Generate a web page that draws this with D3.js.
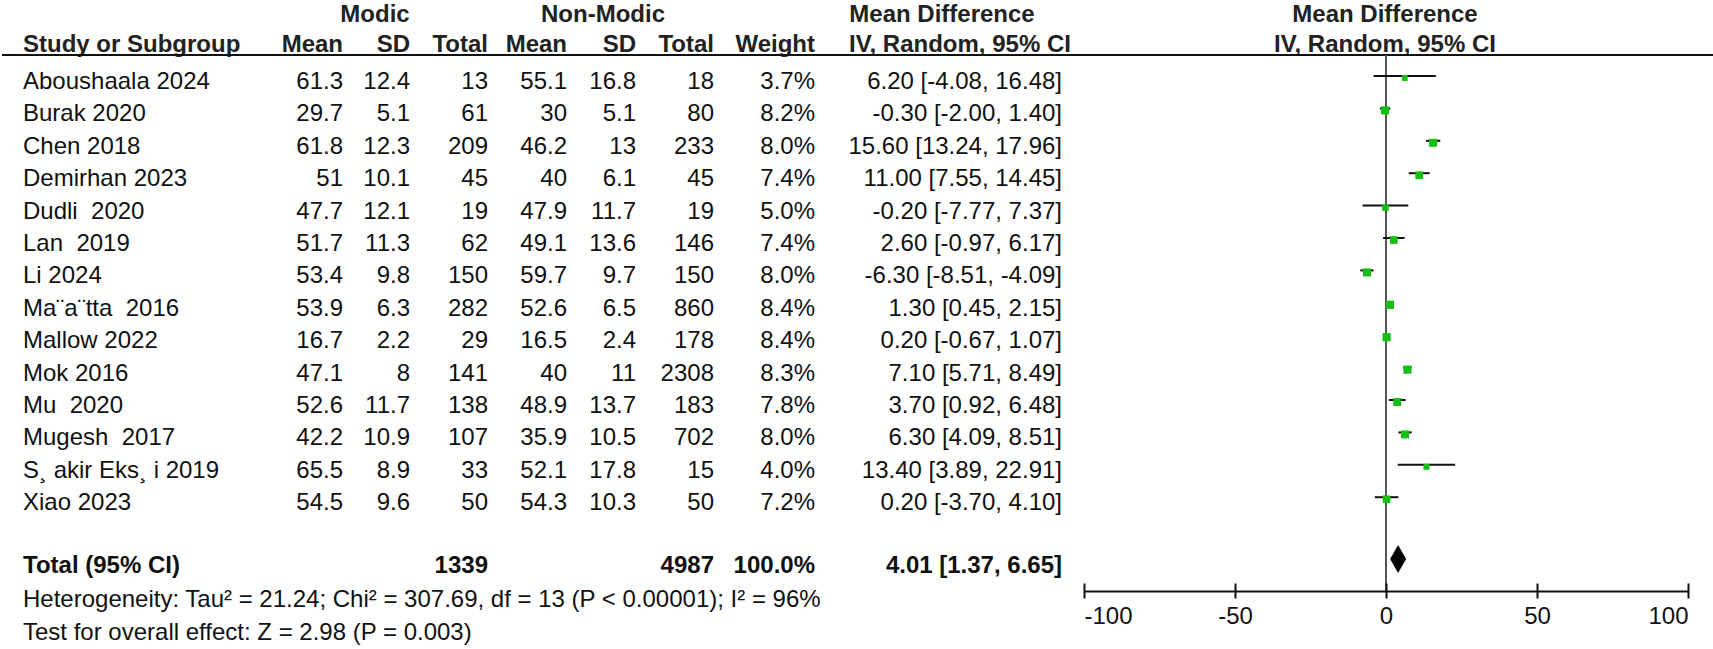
<!DOCTYPE html>
<html>
<head>
<meta charset="utf-8">
<script src="https://cdn.jsdelivr.net/npm/d3@7"></script>
<style>
  html, body { margin: 0; padding: 0; background: #fff; }
  svg { display: block; font-family: "Liberation Sans", Arial, sans-serif; }
  text { white-space: pre; }
</style>
</head>
<body>
<svg id="chart" width="1713" height="649"></svg>
<script>
// ---------- data ----------
const studies = ["Aboushaala 2024", "Burak 2020", "Chen 2018", "Demirhan 2023", "Dudli  2020",
  "Lan  2019", "Li 2024", "Ma\u00a8a\u00a8tta  2016", "Mallow 2022", "Mok 2016", "Mu  2020",
  "Mugesh  2017", "S\u00b8 akir Eks\u00b8 i 2019", "Xiao 2023"];
const modicMean  = [61.3, 29.7, 61.8, 51, 47.7, 51.7, 53.4, 53.9, 16.7, 47.1, 52.6, 42.2, 65.5, 54.5];
const modicSD    = [12.4, 5.1, 12.3, 10.1, 12.1, 11.3, 9.8, 6.3, 2.2, 8, 11.7, 10.9, 8.9, 9.6];
const modicTotal = [13, 61, 209, 45, 19, 62, 150, 282, 29, 141, 138, 107, 33, 50];
const nonMean    = [55.1, 30, 46.2, 40, 47.9, 49.1, 59.7, 52.6, 16.5, 40, 48.9, 35.9, 52.1, 54.3];
const nonSD      = [16.8, 5.1, 13, 6.1, 11.7, 13.6, 9.7, 6.5, 2.4, 11, 13.7, 10.5, 17.8, 10.3];
const nonTotal   = [18, 80, 233, 45, 19, 146, 150, 860, 178, 2308, 183, 702, 15, 50];
const weights    = [3.7, 8.2, 8.0, 7.4, 5.0, 7.4, 8.0, 8.4, 8.4, 8.3, 7.8, 8.0, 4.0, 7.2];
const md         = [6.20, -0.30, 15.60, 11.00, -0.20, 2.60, -6.30, 1.30, 0.20, 7.10, 3.70, 6.30, 13.40, 0.20];
const ciLow      = [-4.08, -2.00, 13.24, 7.55, -7.77, -0.97, -8.51, 0.45, -0.67, 5.71, 0.92, 4.09, 3.89, -3.70];
const ciHigh     = [16.48, 1.40, 17.96, 14.45, 7.37, 6.17, -4.09, 2.15, 1.07, 8.49, 6.48, 8.51, 22.91, 4.10];
const totalModic = 1339;
const totalNon = 4987;
const totalWeight = 100.0;
const totalEffect = [4.01, 1.37, 6.65];
const tickValues = [-100, -50, 0, 50, 100];
const tickLabels = ["-100", "-50", "0", "50", "100"];
const heterogeneityText = "Heterogeneity: Tau\u00b2 = 21.24; Chi\u00b2 = 307.69, df = 13 (P < 0.00001); I\u00b2 = 96%";
const overallText = "Test for overall effect: Z = 2.98 (P = 0.003)";

// ---------- layout ----------
const svg = d3.select("#chart");
const FS = 24;
const headerLineY = 55;
const axisY = 591;
const x = d3.scaleLinear().domain([-100, 100]).range([1084, 1688]);
const rowY = d3.scaleLinear().domain([0, studies.length - 1]).range([89, 89 + 32.4 * (studies.length - 1)]);
const totalY = 573, hetY = 607, testY = 640;

const fmt1 = v => String(v);
const fmt2 = v => v.toFixed(2);
const ciText = (m, l, h) => `${fmt2(m)} [${fmt2(l)}, ${fmt2(h)}]`;

const cols = [
  { right: 343, vals: modicMean.map(fmt1),  head: "Mean" },
  { right: 410, vals: modicSD.map(fmt1),    head: "SD" },
  { right: 488, vals: modicTotal.map(fmt1), head: "Total" },
  { right: 567, vals: nonMean.map(fmt1),    head: "Mean" },
  { right: 636, vals: nonSD.map(fmt1),      head: "SD" },
  { right: 714, vals: nonTotal.map(fmt1),   head: "Total" },
  { right: 815, vals: weights.map(d => d.toFixed(1) + "%"), head: "Weight" },
  { right: 1062, vals: md.map((m, i) => ciText(m, ciLow[i], ciHigh[i])), head: null }
];

// headers
const hdr = svg.append("g").attr("font-weight", "bold").attr("font-size", FS).attr("fill", "#222");
hdr.append("text").attr("x", 375).attr("y", 22).attr("text-anchor", "middle").text("Modic");
hdr.append("text").attr("x", 603).attr("y", 22).attr("text-anchor", "middle").text("Non-Modic");
hdr.append("text").attr("x", 942).attr("y", 22).attr("text-anchor", "middle").text("Mean Difference");
hdr.append("text").attr("x", 1385).attr("y", 22).attr("text-anchor", "middle").text("Mean Difference");
hdr.append("text").attr("x", 23).attr("y", 52).text("Study or Subgroup");
cols.forEach(c => { if (c.head) hdr.append("text").attr("x", c.right).attr("y", 52).attr("text-anchor", "end").text(c.head); });
hdr.append("text").attr("x", 960).attr("y", 52).attr("text-anchor", "middle").text("IV, Random, 95% CI");
hdr.append("text").attr("x", 1385).attr("y", 52).attr("text-anchor", "middle").text("IV, Random, 95% CI");

svg.append("line").attr("x1", 2).attr("x2", 1713).attr("y1", headerLineY).attr("y2", headerLineY)
  .attr("stroke", "#111").attr("stroke-width", 2);

// study rows
const body = svg.append("g").attr("font-size", FS).attr("fill", "#111");
body.selectAll("text.study").data(studies).join("text").attr("class", "study")
  .attr("x", 23).attr("y", (d, i) => rowY(i)).text(d => d);
cols.forEach(c => {
  body.append("g").selectAll("text").data(c.vals).join("text")
    .attr("x", c.right).attr("y", (d, i) => rowY(i)).attr("text-anchor", "end").text(d => d);
});

// total row
const tot = svg.append("g").attr("font-size", FS).attr("font-weight", "bold").attr("fill", "#111");
tot.append("text").attr("x", 23).attr("y", totalY).text("Total (95% CI)");
tot.append("text").attr("x", 488).attr("y", totalY).attr("text-anchor", "end").text(totalModic);
tot.append("text").attr("x", 714).attr("y", totalY).attr("text-anchor", "end").text(totalNon);
tot.append("text").attr("x", 815).attr("y", totalY).attr("text-anchor", "end").text(totalWeight.toFixed(1) + "%");
tot.append("text").attr("x", 1062).attr("y", totalY).attr("text-anchor", "end")
  .text(ciText(totalEffect[0], totalEffect[1], totalEffect[2]));

const foot = svg.append("g").attr("font-size", FS).attr("fill", "#111");
foot.append("text").attr("x", 23).attr("y", hetY).text(heterogeneityText);
foot.append("text").attr("x", 23).attr("y", testY).text(overallText);

// zero line
svg.append("line").attr("x1", x(0)).attr("x2", x(0)).attr("y1", headerLineY).attr("y2", axisY)
  .attr("stroke", "#555").attr("stroke-width", 2);

// CI lines + markers
const markY = i => rowY(i) - 13;
const plot = svg.append("g");
plot.selectAll("line.ci").data(md).join("line").attr("class", "ci")
  .attr("x1", (d, i) => x(ciLow[i])).attr("x2", (d, i) => x(ciHigh[i]))
  .attr("y1", (d, i) => markY(i)).attr("y2", (d, i) => markY(i))
  .attr("stroke", "#111").attr("stroke-width", 2);
const msize = w => 4 + 0.5 * w;
plot.selectAll("rect.mk").data(md).join("rect").attr("class", "mk")
  .attr("x", (d, i) => x(d) - msize(weights[i]) / 2)
  .attr("y", (d, i) => markY(i) + 2 - msize(weights[i]) / 2)
  .attr("width", (d, i) => msize(weights[i])).attr("height", (d, i) => msize(weights[i]))
  .attr("fill", "#14c014");

// diamond
const dY = 559, dH = 14;
svg.append("path")
  .attr("d", `M${x(totalEffect[1])},${dY} L${x(totalEffect[0])},${dY - dH} L${x(totalEffect[2])},${dY} L${x(totalEffect[0])},${dY + dH} Z`)
  .attr("fill", "#000");

// axis
const axis = d3.axisBottom(x).tickValues(tickValues).tickSizeOuter(0).tickSizeInner(7.5)
  .tickFormat((d, i) => tickLabels[i]);
const ag = svg.append("g").attr("transform", `translate(0,${axisY})`).call(axis);
ag.select(".domain").attr("stroke", "#111").attr("stroke-width", 2);
ag.selectAll(".tick line").attr("y1", -7.5).attr("y2", 7.5).attr("stroke", "#111").attr("stroke-width", 2);
ag.selectAll(".tick text").attr("y", 33).attr("dy", 0)
  .attr("font-size", FS).attr("font-family", '"Liberation Sans", Arial, sans-serif').attr("fill", "#111")
  .attr("text-anchor", (d, i) => i === 0 ? "start" : (i === tickValues.length - 1 ? "end" : "middle"));
</script>
</body>
</html>
